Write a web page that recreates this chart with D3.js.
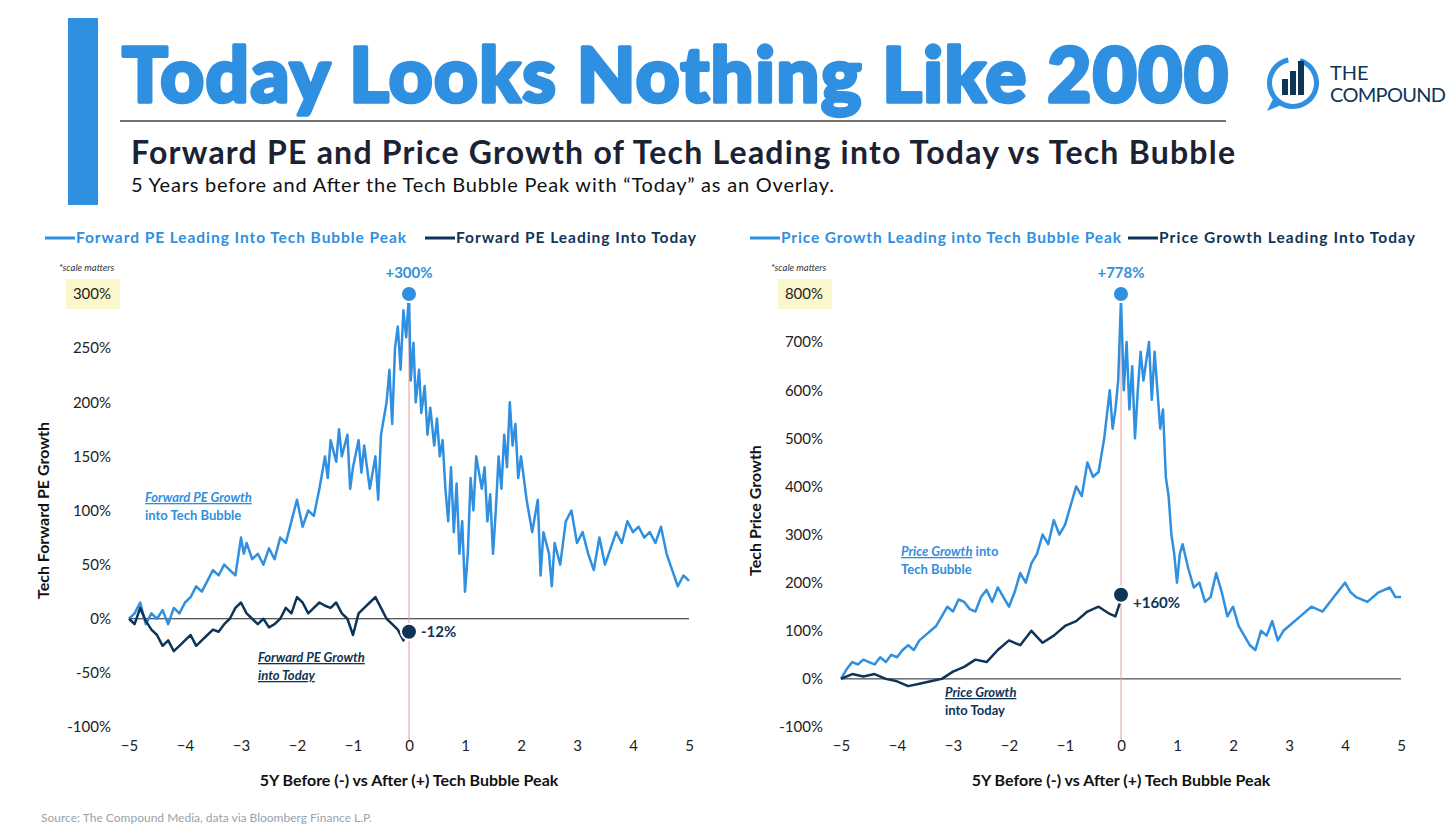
<!DOCTYPE html>
<html><head><meta charset="utf-8">
<script src="https://cdn.jsdelivr.net/npm/d3@7"></script>
<style>body{margin:0;background:#fff;font-family:Lato,"Open Sans",sans-serif}</style>
</head><body>
<script>
// hand-read values (% growth) vs years from peak
const peYears = [-5,-4.9,-4.8,-4.7,-4.6,-4.5,-4.4,-4.3,-4.2,-4.1,-4,-3.9,-3.8,-3.7,-3.6,-3.5,-3.4,-3.3,-3.2,-3.1,-3,-2.95,-2.9,-2.8,-2.7,-2.6,-2.5,-2.4,-2.3,-2.2,-2.1,-2,-1.9,-1.8,-1.7,-1.6,-1.5,-1.45,-1.4,-1.3,-1.25,-1.2,-1.1,-1.05,-1,-0.9,-0.85,-0.8,-0.7,-0.6,-0.55,-0.5,-0.4,-0.35,-0.3,-0.25,-0.2,-0.15,-0.1,-0.05,0,0.03,0.08,0.12,0.18,0.22,0.28,0.33,0.38,0.45,0.5,0.55,0.6,0.65,0.7,0.75,0.8,0.85,0.9,0.95,1,1.05,1.1,1.15,1.2,1.3,1.35,1.4,1.45,1.5,1.55,1.6,1.65,1.7,1.75,1.8,1.85,1.9,1.95,2,2.1,2.2,2.3,2.35,2.4,2.5,2.55,2.6,2.7,2.8,2.9,3,3.1,3.2,3.3,3.4,3.5,3.6,3.7,3.8,3.9,4,4.1,4.2,4.3,4.4,4.5,4.6,4.7,4.8,4.9,5];
const peBubble = [0,5,15,-5,5,0,8,-5,10,5,15,20,30,25,35,45,40,50,45,40,75,60,70,55,60,50,65,55,75,70,90,110,85,100,95,120,150,130,165,145,175,150,170,120,140,165,135,160,120,150,110,170,200,230,180,250,270,230,285,260,300,220,255,200,230,190,215,170,195,160,185,150,165,120,90,140,80,125,60,90,25,60,130,100,150,120,140,90,115,60,100,150,120,170,140,200,160,180,130,150,110,80,110,40,80,60,30,70,50,90,100,70,80,60,45,75,50,65,80,70,90,80,85,75,80,70,85,60,45,30,40,35,45,50,40];
const peTodayYears = [-5,-4.9,-4.8,-4.7,-4.6,-4.5,-4.4,-4.3,-4.2,-4.1,-4,-3.9,-3.8,-3.7,-3.6,-3.5,-3.4,-3.3,-3.2,-3.1,-3,-2.9,-2.8,-2.7,-2.6,-2.5,-2.4,-2.3,-2.2,-2.1,-2,-1.9,-1.8,-1.7,-1.6,-1.5,-1.4,-1.3,-1.2,-1.1,-1,-0.9,-0.8,-0.7,-0.6,-0.5,-0.4,-0.3,-0.2,-0.1,-0.05,0];
const peToday = [0,-5,10,-2,-10,-15,-25,-20,-30,-25,-20,-15,-25,-20,-15,-10,-12,-5,0,10,15,5,0,-5,0,-8,-5,0,10,5,20,15,5,10,15,12,10,15,5,0,-15,5,10,15,20,10,0,-5,-10,-20,-15,-12];

const pgYears = [-5,-4.9,-4.8,-4.7,-4.6,-4.5,-4.4,-4.3,-4.2,-4.1,-4,-3.9,-3.8,-3.7,-3.6,-3.5,-3.4,-3.3,-3.2,-3.1,-3,-2.9,-2.8,-2.7,-2.6,-2.5,-2.4,-2.3,-2.2,-2.1,-2,-1.9,-1.8,-1.7,-1.6,-1.5,-1.4,-1.3,-1.2,-1.1,-1,-0.9,-0.8,-0.7,-0.6,-0.5,-0.4,-0.3,-0.2,-0.15,-0.1,-0.05,0,0.05,0.1,0.15,0.2,0.25,0.3,0.35,0.4,0.45,0.5,0.55,0.6,0.65,0.7,0.75,0.8,0.85,0.9,0.95,1,1.05,1.1,1.2,1.3,1.4,1.5,1.6,1.7,1.8,1.9,2,2.1,2.2,2.3,2.4,2.5,2.6,2.7,2.8,2.9,3,3.2,3.4,3.6,3.8,4,4.1,4.2,4.4,4.6,4.8,4.9,5];
const pgBubble = [0,20,35,30,40,35,30,45,35,50,45,60,70,60,80,90,100,110,130,150,140,165,160,145,140,170,185,160,190,170,150,180,220,200,240,260,300,280,330,300,320,360,400,380,450,420,430,500,600,520,560,620,790,600,700,560,650,500,600,680,620,660,700,580,680,600,520,560,420,380,300,260,200,260,280,230,190,200,160,170,220,180,130,150,110,90,70,60,100,90,120,80,100,110,130,150,140,170,200,180,170,160,180,190,170,170];
const pgTodayYears = [-5,-4.8,-4.6,-4.4,-4.2,-4,-3.8,-3.6,-3.4,-3.2,-3,-2.8,-2.6,-2.4,-2.2,-2,-1.8,-1.6,-1.4,-1.2,-1,-0.8,-0.6,-0.4,-0.2,-0.1,0];
const pgToday = [0,10,5,10,0,-5,-15,-10,-5,0,15,25,40,35,60,80,70,100,75,90,110,120,140,150,135,130,165];

const W = 1456, H = 827;
const svg = d3.select("body").append("svg").attr("width", W).attr("height", H);
const lightBlue = "#2F8FE0", navy = "#0E3457";

// header
svg.append("rect").attr("x", 68).attr("y", 18).attr("width", 30).attr("height", 187).attr("fill", lightBlue);
svg.append("text").attr("x", 122).attr("y", 102).attr("font-size", 76).attr("font-weight", 900)
  .attr("fill", lightBlue).attr("stroke", lightBlue).attr("stroke-width", 3.5).attr("stroke-linejoin", "round")
  .attr("textLength", 1106).text("Today Looks Nothing Like 2000");
svg.append("line").attr("x1", 120).attr("x2", 1226).attr("y1", 121).attr("y2", 121).attr("stroke", "#444").attr("stroke-width", 1.5);
svg.append("text").attr("x", 131).attr("y", 164).attr("font-size", 32).attr("font-weight", 700)
  .attr("fill", "#1a2233").attr("textLength", 1104).text("Forward PE and Price Growth of Tech Leading into Today vs Tech Bubble");
svg.append("text").attr("x", 131).attr("y", 192).attr("font-size", 20)
  .attr("fill", "#111").attr("textLength", 703).text("5 Years before and After the Tech Bubble Peak with \u201CToday\u201D as an Overlay.");

// logo
const lg = svg.append("g").attr("transform", "translate(1293,83)");
lg.append("path").attr("d", d3.arc()({innerRadius: 21, outerRadius: 26, startAngle: 0.3, endAngle: 2 * Math.PI - 0.2})).attr("fill", lightBlue);
lg.append("path").attr("d", "M-20,16 L-26,28 L-12,22 Z").attr("fill", lightBlue);
[[-11, -4, 16], [-3, -12, 24], [5, -22, 34]].forEach(b => lg.append("rect").attr("x", b[0]).attr("y", b[1]).attr("width", 6).attr("height", b[2]).attr("fill", navy));
svg.append("text").attr("x", 1330).attr("y", 80).attr("font-size", 20).attr("fill", navy).text("THE");
svg.append("text").attr("x", 1330).attr("y", 102).attr("font-size", 20).attr("fill", navy).attr("textLength", 116).text("COMPOUND");

function panel(o) {
  const x = d3.scaleLinear().domain([-5, 5]).range([o.x0, o.x0 + 560]);
  const y = d3.scaleLinear().domain([-100, o.top]).range([727, 294]);
  const g = svg.append("g");
  // legend
  [[o.leg1, lightBlue, o.lx1, o.lw1], [o.leg2, navy, o.lx2, o.lw2]].forEach(l => {
    g.append("line").attr("x1", l[2]).attr("x2", l[2] + 30).attr("y1", 238).attr("y2", 238).attr("stroke", l[1]).attr("stroke-width", 3);
    g.append("text").attr("x", l[2] + 31).attr("y", 243).attr("font-size", 15.5).attr("font-weight", 700).attr("fill", l[1])
      .attr("textLength", l[3]).text(l[0]);
  });
  // y ticks
  const ticks = d3.range(-100, o.top + 1, o.step);
  g.append("rect").attr("x", o.x0 - 63).attr("y", y(o.top) - 15).attr("width", 54).attr("height", 30).attr("fill", "#FBF7CC");
  g.append("text").attr("x", o.x0 - 70).attr("y", y(o.top) - 23).attr("font-size", 9.5).attr("font-style", "italic").attr("fill", "#333").text("*scale matters");
  const ya = g.append("g").attr("transform", `translate(${o.x0 - 15},0)`)
    .call(d3.axisLeft(y).tickValues(ticks).tickSize(0).tickFormat(d => d + "%"));
  ya.select(".domain").remove();
  ya.selectAll("text").attr("font-size", 15).attr("fill", "#222").attr("font-family", "Lato");
  // zero line
  g.append("line").attr("x1", x(-5)).attr("x2", x(5)).attr("y1", y(0)).attr("y2", y(0)).attr("stroke", "#222").attr("stroke-width", 1);
  g.append("line").attr("x1", x(0)).attr("x2", x(0)).attr("y1", y(o.dot)).attr("y2", 740).attr("stroke", "#E89A9A").attr("stroke-width", 1);
  const xa = g.append("g").attr("transform", "translate(0,737)")
    .call(d3.axisBottom(x).tickValues(d3.range(-5, 6)).tickSize(0).tickFormat(d3.format("d")));
  xa.select(".domain").remove();
  xa.selectAll("text").attr("font-size", 15).attr("fill", "#222").attr("font-family", "Lato");
  g.append("text").attr("x", x(0)).attr("y", 786).attr("text-anchor", "middle").attr("font-size", 16).attr("font-weight", 700).attr("fill", "#111").text("5Y Before (-) vs After (+) Tech Bubble Peak");
  g.append("text").attr("transform", `translate(${o.x0 - 80},${y(o.ymid)}) rotate(-90)`).attr("text-anchor", "middle").attr("font-size", 16).attr("font-weight", 700).attr("fill", "#111").text(o.ytitle);
  const line = d3.line().x(d => x(d[0])).y(d => y(d[1]));
  g.append("path").datum(d3.zip(o.bx, o.by)).attr("d", line).attr("fill", "none").attr("stroke", lightBlue).attr("stroke-width", 2.5).attr("stroke-linejoin", "round");
  g.append("path").datum(d3.zip(o.tx, o.ty)).attr("d", line).attr("fill", "none").attr("stroke", navy).attr("stroke-width", 2.5).attr("stroke-linejoin", "round");
  // markers
  g.append("circle").attr("cx", x(0)).attr("cy", y(o.dot)).attr("r", 8).attr("fill", lightBlue).attr("stroke", "#fff").attr("stroke-width", 2);
  g.append("text").attr("x", x(0)).attr("y", y(o.dot) - 16).attr("text-anchor", "middle").attr("font-size", 15).attr("font-weight", 700).attr("fill", lightBlue).text("+" + o.peak + "%");
  g.append("circle").attr("cx", x(0)).attr("cy", y(o.todayDot)).attr("r", 8).attr("fill", navy).attr("stroke", "#fff").attr("stroke-width", 2);
  g.append("text").attr("x", x(0) + 12).attr("y", y(o.todayDot) + o.todayDy).attr("font-size", 15).attr("font-weight", 700).attr("fill", navy).text(o.todayLab);
  // annotations
  o.notes.forEach(n => {
    const t = g.append("text").attr("x", n.x).attr("y", n.y).attr("font-size", 13).attr("font-weight", 700).attr("fill", n.c);
    t.append("tspan").attr("font-style", "italic").attr("text-decoration", "underline").text(n.a);
    t.append("tspan").attr("font-style", n.i ? "italic" : "normal").text(n.b);
    g.append("text").attr("x", n.x).attr("y", n.y + 18).attr("font-size", 13).attr("font-weight", 700).attr("fill", n.c)
      .attr("font-style", n.i ? "italic" : "normal").attr("text-decoration", n.u ? "underline" : "none").text(n.l2);
  });
}

panel({x0: 129, top: 300, step: 50, ymid: 100, peak: 300, dot: 300, todayDot: -12, todayDy: 5, todayLab: "-12%",
  ytitle: "Tech Forward PE Growth", leg1: "Forward PE Leading Into Tech Bubble Peak", leg2: "Forward PE Leading Into Today",
  lx1: 45, lw1: 330, lx2: 425, lw2: 240, bx: peYears, by: peBubble, tx: peTodayYears, ty: peToday,
  notes: [{x: 145, y: 502, a: "Forward PE Growth", b: "", l2: "into Tech Bubble", c: lightBlue, i: false, u: false},
          {x: 258, y: 662, a: "Forward PE Growth", b: "", l2: "into Today", c: navy, i: true, u: true}]});
panel({x0: 841, top: 800, step: 100, ymid: 350, peak: 778, dot: 800, todayDot: 175, todayDy: 13, todayLab: "+160%",
  ytitle: "Tech Price Growth", leg1: "Price Growth Leading into Tech Bubble Peak", leg2: "Price Growth Leading Into Today",
  lx1: 750, lw1: 340, lx2: 1128, lw2: 256, bx: pgYears, by: pgBubble, tx: pgTodayYears, ty: pgToday,
  notes: [{x: 901, y: 556, a: "Price Growth", b: " into", l2: "Tech Bubble", c: lightBlue, i: false, u: false},
          {x: 945, y: 697, a: "Price Growth", b: "", l2: "into Today", c: navy, i: false, u: false}]});

svg.append("text").attr("x", 41).attr("y", 822).attr("font-size", 12).attr("fill", "#9aa3ad").text("Source: The Compound Media, data via Bloomberg Finance L.P.");
</script>
</body></html>
